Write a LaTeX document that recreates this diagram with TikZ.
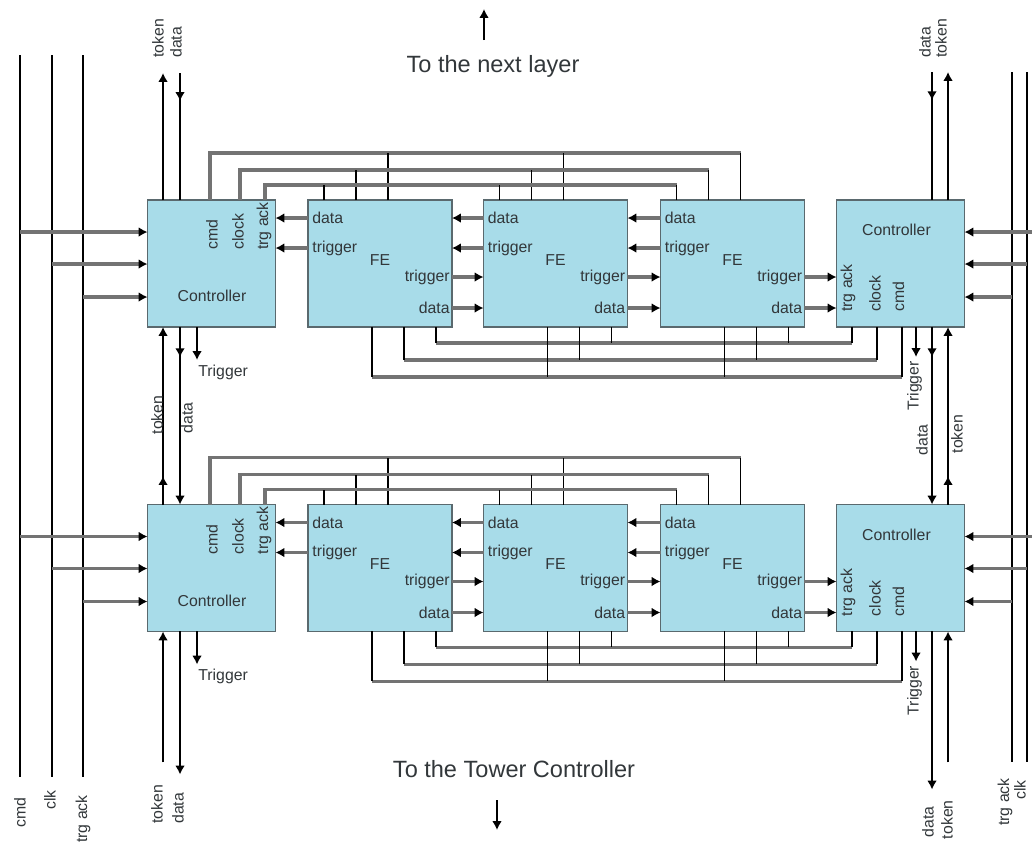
\documentclass[tikz,border=0pt]{standalone}
\usepackage{fontspec}
\setmainfont{Liberation Sans}
\usetikzlibrary{arrows.meta, calc, decorations.markings}

\definecolor{boxfill}{RGB}{168,220,233}
\definecolor{boxline}{RGB}{90,105,110}
\definecolor{busgray}{RGB}{115,115,115}
\definecolor{labelgray}{RGB}{50,55,58}

\tikzset{
  blockbox/.style={draw=boxline, fill=boxfill, line width=0.8pt, inner sep=0pt, outer sep=0pt, minimum height=2.54cm},
  ctlbox/.style={blockbox, minimum width=2.56cm},
  febox/.style={blockbox, minimum width=2.88cm},
  wire/.style={line width=1.1pt, black},
  bus/.style={line width=1.8pt, busgray},
  link/.style={bus, -{Latex[length=5pt,width=5.5pt,color=black]}},
  outarrow/.style={-{Latex[length=5pt,width=5.5pt]}},
  midarrow/.style={postaction={decorate}, decoration={markings, mark=at position #1 with {\arrow{Latex[length=5pt,width=5.5pt]}}}},
  lbl/.style={font=\fontsize{9}{10}\selectfont, text=labelgray, inner sep=0pt},
  vlbl/.style={lbl, rotate=90},
  caption/.style={font=\fontsize{13.4}{15}\selectfont, text=labelgray, inner sep=0pt},
}

\begin{document}
\begin{tikzpicture}[x=0.02cm, y=-0.02cm]
  \useasboundingbox (0,0) rectangle (1032,842);

  % long cmd / clk / trg ack lines at both sides
  \coordinate (cmdT) at (20,55);    \coordinate (cmdB) at (20,777);
  \coordinate (clkT) at (52,55);    \coordinate (clkB) at (52,777);
  \coordinate (ackT) at (83,55);    \coordinate (ackB) at (83,777);
  \coordinate (rackT) at (1012,72); \coordinate (rackB) at (1012,762);
  \coordinate (rclkT) at (1027,72); \coordinate (rclkB) at (1027,762);
  \coordinate (rcmd) at (1032,0);
  \draw[wire] (cmdT) -- (cmdB);
  \draw[wire] (clkT) -- (clkB);
  \draw[wire] (ackT) -- (ackB);
  \draw[wire] (rackT) -- (rackB);
  \draw[wire] (rclkT) -- (rclkB);
  \node[vlbl, anchor=east] (cmdlbl) at (20,797) {cmd};
  \node[vlbl, anchor=east] (clklbl) at (50,790) {clk};
  \node[vlbl, anchor=east] (acklbl) at (83,795) {trg ack};
  \node[vlbl, anchor=east] (racklbl) at (1005,778) {trg ack};
  \node[vlbl, anchor=east] (rclklbl) at (1020,780) {clk};

  % the two layers
  \foreach \L/\y in {a/263.5, b/568} {
    \node[ctlbox] (ctlL\L) at (211.5,\y) {};
    \node[febox]  (fe1\L)  at (380,\y) {};
    \node[febox]  (fe2\L)  at (555.5,\y) {};
    \node[febox]  (fe3\L)  at (732.5,\y) {};
    \node[ctlbox] (ctlR\L) at (900.5,\y) {};

    % controller texts
    \node[vlbl, anchor=west] (cmdL\L) at ($(ctlL\L.north west)+(64.5,50)$) {cmd};
    \node[vlbl, anchor=west] (clockL\L) at ($(ctlL\L.north west)+(90.5,50)$) {clock};
    \node[vlbl, anchor=west] (trgL\L) at ($(ctlL\L.north west)+(116.5,50)$) {trg ack};
    \node[lbl] (ctlLtxt\L) at ($(ctlL\L.north west)+(64.5,96)$) {Controller};
    \node[lbl] (ctlRtxt\L) at ($(ctlR\L.north west)+(60,30)$) {Controller};
    \node[vlbl, anchor=west] (trgR\L) at ($(ctlR\L.north west)+(11.5,112)$) {trg ack};
    \node[vlbl, anchor=west] (clockR\L) at ($(ctlR\L.north west)+(38.5,112)$) {clock};
    \node[vlbl, anchor=west] (cmdR\L) at ($(ctlR\L.north west)+(62,112)$) {cmd};

    % FE texts
    \foreach \f in {fe1,fe2,fe3} {
      \node[lbl, anchor=west] (\f\L-din) at ($(\f\L.north west)+(4,18)$) {data};
      \node[lbl, anchor=west] (\f\L-tin) at ($(\f\L.north west)+(4,48)$) {trigger};
      \node[lbl] (\f\L-name) at ($(\f\L.north)+(0,60)$) {FE};
      \node[lbl, anchor=east] (\f\L-tout) at ($(\f\L.north east)+(-2,77)$) {trigger};
      \node[lbl, anchor=east] (\f\L-dout) at ($(\f\L.north east)+(-2,108)$) {data};
    }

    % data / trigger between neighbours
    \foreach \s/\t in {fe1/ctlL, fe2/fe1, fe3/fe2} {
      \draw[link] ($(\s\L.north west)+(0,18)$) -- ($(\t\L.north east)+(0,18)$);
      \draw[link] ($(\s\L.north west)+(0,48)$) -- ($(\t\L.north east)+(0,48)$);
    }
    \foreach \s/\t in {fe1/fe2, fe2/fe3, fe3/ctlR} {
      \draw[link] ($(\s\L.north east)+(0,77)$) -- ($(\t\L.north west)+(0,77)$);
      \draw[link] ($(\s\L.north east)+(0,108)$) -- ($(\t\L.north west)+(0,108)$);
    }

    % inputs from the side lines
    \coordinate (inL1\L) at ($(ctlL\L.north west)+(0,32)$);
    \coordinate (inL2\L) at ($(ctlL\L.north west)+(0,64)$);
    \coordinate (inL3\L) at ($(ctlL\L.north west)+(0,97)$);
    \draw[link] (inL1\L -| cmdT) -- (inL1\L);
    \draw[link] (inL2\L -| clkT) -- (inL2\L);
    \draw[link] (inL3\L -| ackT) -- (inL3\L);
    \coordinate (inR1\L) at ($(ctlR\L.north east)+(0,32)$);
    \coordinate (inR2\L) at ($(ctlR\L.north east)+(0,64)$);
    \coordinate (inR3\L) at ($(ctlR\L.north east)+(0,97)$);
    \draw[link] (inR1\L -| rcmd) -- (inR1\L);
    \draw[link] (inR2\L -| rclkT) -- (inR2\L);
    \draw[link] (inR3\L -| rackT) -- (inR3\L);

    % cmd / clock / trg ack buses above the layer
    \foreach \dx/\dy/\cx in {80/47/62.5, 48/30/92.5, 16/15/117.5} {
      \draw[bus] ($(ctlL\L.north west)+(\cx,0)$) |- ($(fe3\L.north west)+(\dx,-\dy)$);
      \foreach \f in {fe1,fe2,fe3}
        \draw[wire] ($(\f\L.north west)+(\dx,0)$) -- ++(0,-\dy);
    }

    % buses below the layer
    \foreach \dx/\dy/\cx in {128/16/15.5, 96/33/40.5, 64/50/65.5} {
      \draw[bus] ($(fe1\L.south west)+(\dx,\dy)$) -- ($(ctlR\L.south west)+(\cx,\dy)$);
      \foreach \f in {fe1,fe2,fe3}
        \draw[wire] ($(\f\L.south west)+(\dx,0)$) -- ++(0,\dy);
      \draw[wire] ($(ctlR\L.south west)+(\cx,0)$) -- ++(0,\dy);
    }

    % trigger outputs
    \draw[wire, outarrow] ($(ctlL\L.south west)+(49.5,0)$) -- ++(0,33);
    \node[lbl, anchor=west] (trigL\L) at ($(ctlL\L.south west)+(50.5,45)$) {Trigger};
    \draw[wire, outarrow] ($(ctlR\L.south west)+(79.5,0)$) -- ++(0,30);
    \node[vlbl] (trigR\L) at ($(ctlR\L.south west)+(78,59)$) {Trigger};
  }

  % token / data, left side
  \draw[wire, outarrow] ($(ctlLa.north west)+(15.5,0)$) -- ++(0,-127);
  \draw[wire, midarrow=0.22] ($(ctlLa.north west)+(32.5,-127)$) -- ($(ctlLa.north west)+(32.5,0)$);
  \draw[wire, outarrow, midarrow=0.16] ($(ctlLb.north west)+(15.5,0)$) -- ($(ctlLa.south west)+(15.5,0)$);
  \draw[wire, outarrow, midarrow=0.17] ($(ctlLa.south west)+(32.5,0)$) -- ($(ctlLb.north west)+(32.5,0)$);
  \draw[wire, outarrow] ($(ctlLb.south west)+(15.5,131)$) -- ($(ctlLb.south west)+(15.5,0)$);
  \draw[wire, outarrow] ($(ctlLb.south west)+(32.5,0)$) -- ++(0,143);
  \node[vlbl, anchor=west] (tokLtop) at (158,58) {token};
  \node[vlbl, anchor=west] (datLtop) at (176,58) {data};
  \node[vlbl] (tokLmid) at (157,415) {token};
  \node[vlbl] (datLmid) at (187,418) {data};
  \node[vlbl, anchor=west] (tokLbot) at (157,824) {token};
  \node[vlbl, anchor=west] (datLbot) at (178,824) {data};

  % token / data, right side
  \draw[wire, midarrow=0.22] ($(ctlRa.north west)+(95.5,-128)$) -- ($(ctlRa.north west)+(95.5,0)$);
  \draw[wire, outarrow] ($(ctlRa.north west)+(111.5,0)$) -- ++(0,-128);
  \draw[wire, outarrow, midarrow=0.17] ($(ctlRa.south west)+(95.5,0)$) -- ($(ctlRb.north west)+(95.5,0)$);
  \draw[wire, outarrow, midarrow=0.16] ($(ctlRb.north west)+(111.5,0)$) -- ($(ctlRa.south west)+(111.5,0)$);
  \draw[wire, outarrow] ($(ctlRb.south west)+(95.5,0)$) -- ++(0,158);
  \draw[wire, outarrow] ($(ctlRb.south west)+(111.5,131)$) -- ($(ctlRb.south west)+(111.5,0)$);
  \node[vlbl, anchor=west] (datRtop) at (925,58) {data};
  \node[vlbl, anchor=west] (tokRtop) at (941,58) {token};
  \node[vlbl] (datRmid) at (922,440) {data};
  \node[vlbl] (tokRmid) at (957,434) {token};
  \node[vlbl, anchor=east] (datRbot) at (928,806) {data};
  \node[vlbl, anchor=east] (tokRbot) at (947,800) {token};

  % next layer / tower controller
  \node[caption] (next) at (493,66) {To the next layer};
  \draw[wire, outarrow] ($(next.center)+(-9,-26)$) -- ++(0,-31);
  \node[caption] (tower) at (514,769) {To the Tower Controller};
  \draw[wire, outarrow] ($(tower.center)+(-17,31)$) -- ++(0,30);
\end{tikzpicture}
\end{document}
